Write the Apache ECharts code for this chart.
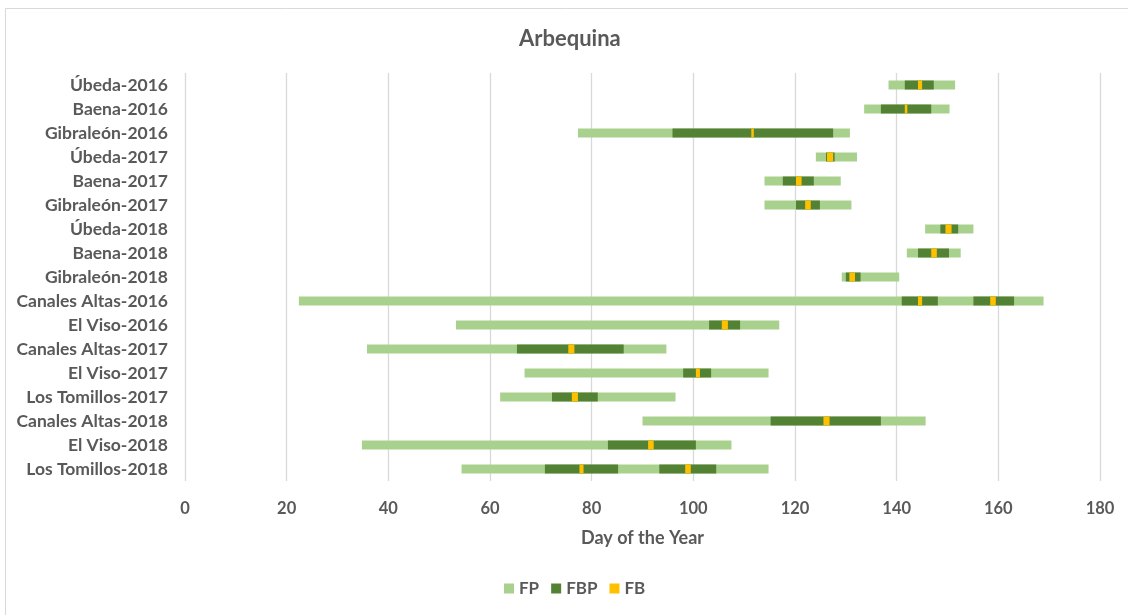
<!DOCTYPE html>
<html>
<head>
<meta charset="utf-8">
<script src="https://cdn.jsdelivr.net/npm/echarts@6/dist/echarts.min.js"></script>
<style>
  html, body { margin: 0; padding: 0; background: #fff; }
  #chart { width: 1128px; height: 615px; }
</style>
</head>
<body>
<div id="chart"></div>
<script>
// Sites and seasons, top to bottom
const categories = [
  'Úbeda-2016', 'Baena-2016', 'Gibraleón-2016',
  'Úbeda-2017', 'Baena-2017', 'Gibraleón-2017',
  'Úbeda-2018', 'Baena-2018', 'Gibraleón-2018',
  'Canales Altas-2016', 'El Viso-2016',
  'Canales Altas-2017', 'El Viso-2017', 'Los Tomillos-2017',
  'Canales Altas-2018', 'El Viso-2018', 'Los Tomillos-2018'
];

// Flowering period (FP): [site, start day, end day]
const fpRanges = [
  ['Úbeda-2016', 138.4, 151.5],
  ['Baena-2016', 133.6, 150.4],
  ['Gibraleón-2016', 77.3, 130.8],
  ['Úbeda-2017', 124.1, 132.2],
  ['Baena-2017', 114.0, 129.0],
  ['Gibraleón-2017', 114.0, 131.1],
  ['Úbeda-2018', 145.6, 155.1],
  ['Baena-2018', 142.0, 152.6],
  ['Gibraleón-2018', 129.2, 140.5],
  ['Canales Altas-2016', 22.4, 168.9],
  ['El Viso-2016', 53.3, 116.9],
  ['Canales Altas-2017', 35.8, 94.7],
  ['El Viso-2017', 66.8, 114.8],
  ['Los Tomillos-2017', 62.0, 96.5],
  ['Canales Altas-2018', 90.0, 145.7],
  ['El Viso-2018', 34.8, 107.5],
  ['Los Tomillos-2018', 54.4, 114.8]
];

// Full bloom period (FBP)
const fbpRanges = [
  ['Úbeda-2016', 141.6, 147.3],
  ['Baena-2016', 136.9, 146.8],
  ['Gibraleón-2016', 95.9, 127.5],
  ['Úbeda-2017', 126.1, 127.8],
  ['Baena-2017', 117.6, 123.7],
  ['Gibraleón-2017', 120.2, 124.9],
  ['Úbeda-2018', 148.6, 152.1],
  ['Baena-2018', 144.2, 150.3],
  ['Gibraleón-2018', 130.0, 132.9],
  ['Canales Altas-2016', 141.0, 148.1],
  ['Canales Altas-2016', 155.1, 163.1],
  ['El Viso-2016', 103.1, 109.2],
  ['Canales Altas-2017', 65.3, 86.3],
  ['El Viso-2017', 98.0, 103.5],
  ['Los Tomillos-2017', 72.2, 81.2],
  ['Canales Altas-2018', 115.2, 136.9],
  ['El Viso-2018', 83.2, 100.5],
  ['Los Tomillos-2018', 70.8, 85.2],
  ['Los Tomillos-2018', 93.3, 104.5]
];

// Full bloom (FB)
const fbRanges = [
  ['Úbeda-2016', 144.2, 145.0],
  ['Baena-2016', 141.6, 142.1],
  ['Gibraleón-2016', 111.4, 111.9],
  ['Úbeda-2017', 126.3, 127.5],
  ['Baena-2017', 120.2, 121.3],
  ['Gibraleón-2017', 122.0, 123.1],
  ['Úbeda-2018', 149.6, 150.8],
  ['Baena-2018', 146.8, 147.9],
  ['Gibraleón-2018', 130.7, 131.8],
  ['Canales Altas-2016', 144.2, 145.0],
  ['Canales Altas-2016', 158.4, 159.5],
  ['El Viso-2016', 105.6, 106.8],
  ['Canales Altas-2017', 75.4, 76.6],
  ['El Viso-2017', 100.5, 101.3],
  ['Los Tomillos-2017', 76.1, 77.3],
  ['Canales Altas-2018', 125.6, 126.8],
  ['El Viso-2018', 91.1, 92.2],
  ['Los Tomillos-2018', 77.6, 78.4],
  ['Los Tomillos-2018', 98.4, 99.5]
];

const xTicks = { min: 0, max: 180, interval: 20 };

const FONT = 'Lato, "Open Sans", sans-serif';
const TEXT = '#595959';

// Draws one horizontal span [start, end] centred on its category band
function rangeBar(params, api) {
  const cat = api.value(0);
  const p0 = api.coord([api.value(1), cat]);
  const p1 = api.coord([api.value(2), cat]);
  const h = 9;
  const shape = echarts.graphic.clipRectByRect({
    x: p0[0], y: p0[1] - h / 2, width: p1[0] - p0[0], height: h
  }, {
    x: params.coordSys.x, y: params.coordSys.y,
    width: params.coordSys.width, height: params.coordSys.height
  });
  return shape && { type: 'rect', shape: shape, style: api.style() };
}

function makeSeries(name, data, color, z) {
  return {
    name: name,
    type: 'custom',
    renderItem: rangeBar,
    itemStyle: { color: color },
    encode: { x: [1, 2], y: 0 },
    data: data,
    z: z
  };
}

const chart = echarts.init(document.getElementById('chart'), null, { renderer: 'canvas' });
chart.setOption({
  animation: false,
  backgroundColor: '#ffffff',
  title: {
    text: 'Arbequina',
    left: 514,
    top: 23,
    textStyle: { fontFamily: FONT, fontSize: 22, fontWeight: 'bold', color: TEXT }
  },
  grid: { left: 185, right: 28, top: 73, bottom: 134, containLabel: false },
  xAxis: {
    type: 'value',
    min: xTicks.min, max: xTicks.max, interval: xTicks.interval,
    name: 'Day of the Year',
    nameLocation: 'middle',
    nameGap: 48,
    nameTextStyle: { fontFamily: FONT, fontSize: 18, fontWeight: 'bold', color: TEXT },
    axisLine: { show: false },
    axisTick: { show: false },
    axisLabel: { fontFamily: FONT, fontSize: 16.5, fontWeight: 'bold', color: TEXT, margin: 19 },
    splitLine: { show: true, lineStyle: { color: '#d9d9d9', width: 1.3 } }
  },
  yAxis: {
    type: 'category',
    data: categories,
    inverse: true,
    axisLine: { show: false },
    axisTick: { show: false },
    splitLine: { show: false },
    axisLabel: { fontFamily: FONT, fontSize: 17.5, fontWeight: 'bold', color: TEXT, margin: 17 }
  },
  legend: {
    top: 575,
    left: 499,
    icon: 'rect',
    itemWidth: 10,
    itemHeight: 10,
    itemGap: 12,
    textStyle: { fontFamily: FONT, fontSize: 17, fontWeight: 'bold', color: TEXT },
    data: ['FP', 'FBP', 'FB']
  },
  graphic: [{
    type: 'rect',
    shape: { x: 5.5, y: 8.5, width: 1140, height: 640 },
    style: { fill: 'none', stroke: '#d9d9d9', lineWidth: 1 },
    silent: true
  }],
  series: [
    makeSeries('FP', fpRanges, '#a9d18e', 2),
    makeSeries('FBP', fbpRanges, '#548235', 3),
    makeSeries('FB', fbRanges, '#ffc000', 4)
  ]
});
</script>
</body>
</html>
